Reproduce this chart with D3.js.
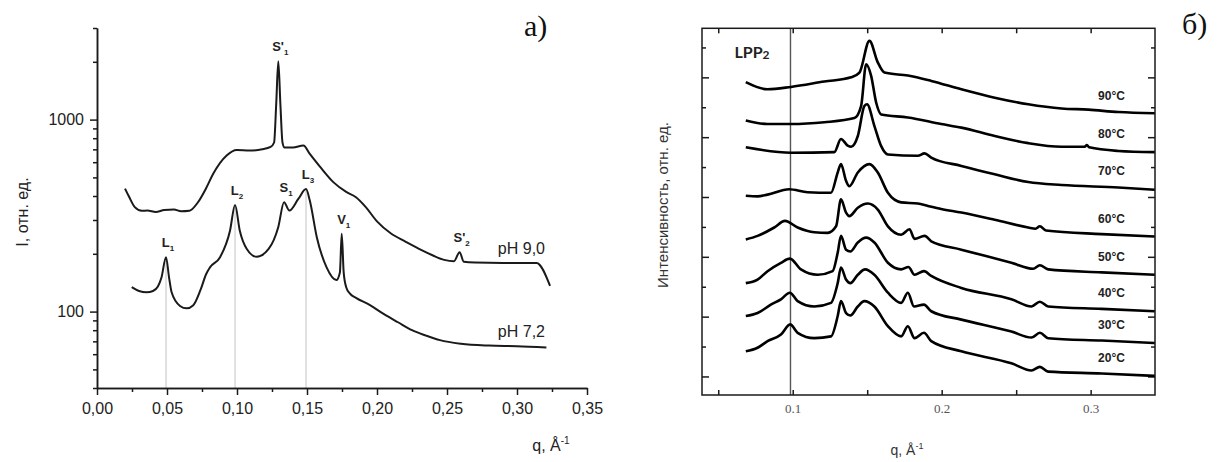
<!DOCTYPE html>
<html>
<head>
<meta charset="utf-8">
<script src="https://cdn.jsdelivr.net/npm/d3@7"></script>
<style>
  body { margin: 0; background: #fff; }
  svg { display: block; }
</style>
</head>
<body>
<svg width="1218" height="462"></svg>
<script>
// ---------- panel а): SAXS curves, log intensity ----------
const qPh9 = [0.020, 0.023, 0.027, 0.032, 0.036, 0.042, 0.048, 0.055, 0.060, 0.066, 0.072, 0.078, 0.083,
  0.0926, 0.0998, 0.109, 0.118, 0.124, 0.1265, 0.128, 0.1295, 0.131, 0.1325, 0.134, 0.140, 0.1474, 0.152,
  0.160, 0.169, 0.178, 0.185, 0.192, 0.200, 0.210, 0.220, 0.230, 0.240, 0.248, 0.255, 0.259, 0.262,
  0.270, 0.290, 0.314, 0.3236];
const iPh9 = [437, 395, 350, 335, 336, 330, 338, 340, 333, 335, 370, 440, 522,
  650, 695, 690, 700, 720, 760, 1200, 2014, 1200, 760, 715, 715, 733, 663,
  560, 471, 420, 394, 350, 295, 255, 232, 212, 196, 186, 183, 204, 182,
  180, 179, 179, 136];

const qPh7 = [0.0248, 0.030, 0.0355, 0.040, 0.0435, 0.046, 0.0493, 0.0515, 0.0533, 0.0593, 0.064, 0.0688,
  0.074, 0.078, 0.0807, 0.0879, 0.095, 0.0986, 0.102, 0.107, 0.114, 0.1226, 0.1295, 0.1336, 0.1374,
  0.1438, 0.1493, 0.152, 0.157, 0.164, 0.171, 0.1735, 0.1748, 0.1762, 0.178, 0.1807, 0.185, 0.195,
  0.205, 0.215, 0.225, 0.235, 0.245, 0.260, 0.280, 0.300, 0.321];
const iPh7 = [134, 128, 126, 128, 135, 150, 192, 150, 126, 107, 104, 108,
  130, 157, 170, 192, 264, 359, 264, 212, 193, 212, 276, 371, 336,
  386, 435, 379, 244, 170, 146, 160, 254, 160, 134, 124, 118, 108,
  97, 88, 80, 75, 71, 68, 66.5, 66, 65];

const phNames = ['pH 9,0', 'pH 7,2'];

// peak annotations
const peakBase = ['L', 'L', 'S', 'L', 'V', "S'", "S'"];
const peakSub = ['1', '2', '1', '3', '1', '1', '2'];
const peakQ = [0.0493, 0.0986, 0.1336, 0.1493, 0.1748, 0.1295, 0.259];
const peakI = [192, 359, 371, 435, 254, 2014, 204];

const xTicksA = [0, 0.05, 0.10, 0.15, 0.20, 0.25, 0.30, 0.35];
const xMinorA = [0.025, 0.075, 0.125, 0.175, 0.225, 0.275, 0.325];
const yTicksA = [100, 1000];
const yMinorA = [40, 50, 60, 70, 80, 90, 200, 300, 400, 500, 600, 700, 800, 900, 2000, 3000];

// ---------- panel б): curves vs temperature (shifted) ----------
const tempNames = ['20°C', '30°C', '40°C', '50°C', '60°C', '70°C', '80°C', '90°C'];
const t20 = [[0.0685,0.42],[0.0764,0.48],[0.0831,0.59],[0.0921,0.70],[0.0983,0.87],[0.1033,0.73],[0.1145,0.64],
  [0.1257,0.67],[0.1302,1.01],[0.1324,1.26],[0.1358,1.06],[0.1387,1.02],[0.1437,1.17],[0.1481,1.26],[0.1548,1.17],
  [0.1639,0.84],[0.1728,0.67],[0.1773,0.84],[0.1818,0.64],[0.1881,0.73],[0.1930,0.59],[0.2132,0.42],[0.2468,0.22],
  [0.2603,0.10],[0.2659,0.16],[0.2715,0.08],[0.3074,0.05],[0.343,0.01]];
const t30 = [[0.0685,1.01],[0.0764,1.06],[0.0853,1.20],[0.0921,1.29],[0.0981,1.40],[0.1033,1.26],[0.1145,1.17],
  [0.1257,1.23],[0.1302,1.56],[0.1324,1.82],[0.1358,1.62],[0.1387,1.56],[0.1437,1.70],[0.1486,1.79],[0.1548,1.70],
  [0.1639,1.40],[0.1728,1.23],[0.1773,1.40],[0.1814,1.17],[0.1881,1.20],[0.1930,1.09],[0.2132,0.95],[0.2468,0.75],
  [0.2603,0.65],[0.2659,0.73],[0.2715,0.64],[0.3074,0.60],[0.343,0.56]];
const t40 = [[0.0685,1.56],[0.0764,1.62],[0.0831,1.76],[0.0921,1.90],[0.0981,1.97],[0.1055,1.79],[0.1168,1.70],
  [0.1268,1.76],[0.1302,2.07],[0.1324,2.35],[0.1358,2.12],[0.1387,2.09],[0.1437,2.24],[0.1493,2.32],[0.1548,2.24],
  [0.1639,1.90],[0.1728,1.79],[0.1777,1.83],[0.1818,1.70],[0.1881,1.76],[0.1930,1.68],[0.2132,1.48],[0.2468,1.29],
  [0.2603,1.17],[0.2659,1.25],[0.2715,1.17],[0.3074,1.13],[0.343,1.09]];
const t50 = [[0.0685,2.29],[0.0764,2.35],[0.0876,2.49],[0.0948,2.60],[0.1033,2.49],[0.1145,2.41],[0.1235,2.40],
  [0.1291,2.51],[0.1324,2.96],[0.1358,2.74],[0.1380,2.68],[0.1437,2.82],[0.1504,2.89],[0.1571,2.79],[0.1639,2.51],
  [0.1728,2.37],[0.1784,2.46],[0.1818,2.30],[0.1885,2.35],[0.1930,2.26],[0.2132,2.12],[0.2468,1.90],[0.2614,1.80],
  [0.2659,1.86],[0.2715,1.79],[0.3074,1.74],[0.343,1.70]];
const t60 = [[0.0685,3.02],[0.0764,3.01],[0.0831,3.04],[0.0976,3.13],[0.1100,3.08],[0.1257,3.07],[0.1302,3.41],
  [0.1324,3.55],[0.1358,3.27],[0.1380,3.18],[0.1437,3.41],[0.1515,3.55],[0.1571,3.41],[0.1639,3.07],[0.1728,2.91],
  [0.1840,2.89],[0.1908,2.85],[0.1997,2.80],[0.2132,2.74],[0.2356,2.62],[0.2581,2.49],[0.2630,2.47],[0.2659,2.51],
  [0.2700,2.44],[0.3074,2.38],[0.343,2.34]];
const t70 = [[0.0685,3.83],[0.0988,3.74],[0.1279,3.75],[0.1324,3.97],[0.1369,3.86],[0.1392,3.84],[0.1437,4.02],
  [0.1481,4.52],[0.1499,4.55],[0.1548,4.19],[0.1594,3.85],[0.1639,3.71],[0.1840,3.69],[0.1885,3.73],[0.1930,3.66],
  [0.2132,3.52],[0.2356,3.38],[0.2581,3.25],[0.2805,3.20],[0.3186,3.16],[0.343,3.12]];
const t80 = [[0.0685,4.28],[0.0831,4.22],[0.0988,4.22],[0.1212,4.25],[0.1414,4.32],[0.1459,4.52],[0.1493,5.22],
  [0.1526,5.03],[0.1560,4.58],[0.1594,4.38],[0.1773,4.33],[0.1997,4.22],[0.2132,4.16],[0.2356,4.02],[0.2581,3.90],
  [0.2805,3.84],[0.2960,3.84],[0.2975,3.87],[0.2990,3.83],[0.3186,3.77],[0.343,3.75]];
const t90 = [[0.0685,4.92],[0.0831,4.80],[0.0988,4.84],[0.1212,4.93],[0.1392,5.00],[0.1448,5.08],[0.1515,5.61],
  [0.1571,5.25],[0.1616,5.08],[0.1773,5.03],[0.1930,4.94],[0.2132,4.80],[0.2356,4.66],[0.2581,4.55],[0.2805,4.48],
  [0.2985,4.46],[0.3186,4.42],[0.343,4.40]];

const lppQ = 0.0985;
const xTicksB = [0.05, 0.1, 0.15, 0.2, 0.25, 0.3];
const yTicksB = [0, 1, 2, 3, 4, 5];
const yMinorB = [0.5, 1.5, 2.5, 3.5, 4.5, 5.5];

const svg = d3.select('svg');
const sans = "'Liberation Sans', Arial, sans-serif";
const serif = "'Liberation Serif', 'Times New Roman', serif";
const ink = '#1a1a1a';

function paintAxis(g, size, family, color) {
  g.attr('font-family', family).attr('font-size', size);
  g.select('.domain').attr('stroke', ink).attr('stroke-width', 1.5);
  g.selectAll('.tick line').attr('stroke', ink).attr('stroke-width', 1.5);
  g.selectAll('.tick text').attr('fill', color || ink);
}

// ================= panel а) =================
const xL = d3.scaleLinear().domain([0, 0.35]).range([97, 587]);
const yL = d3.scaleLog().domain([40, 3000]).range([388, 28]);

const pa = svg.append('g');

// thin guide lines under the L peaks
pa.append('g').selectAll('line')
  .data(peakQ.map((q, i) => ({q, I: peakI[i], b: peakBase[i]})).filter(d => d.b === 'L'))
  .join('line')
  .attr('x1', d => xL(d.q)).attr('x2', d => xL(d.q))
  .attr('y1', d => yL(d.I)).attr('y2', yL(40))
  .attr('stroke', '#c4c4c4').attr('stroke-width', 1);

pa.append('g').attr('transform', 'translate(0,388)')
  .call(d3.axisBottom(xL).tickValues(xMinorA).tickFormat('').tickSize(4).tickSizeOuter(0))
  .call(g => paintAxis(g, 16, sans));
pa.append('g').attr('transform', 'translate(0,388)')
  .call(d3.axisBottom(xL).tickValues(xTicksA).tickFormat(d => d3.format('.2f')(d).replace('.', ','))
    .tickSize(7).tickSizeOuter(0).tickPadding(8))
  .call(g => paintAxis(g, 16, sans, '#222'));

pa.append('g').attr('transform', 'translate(97,0)')
  .call(d3.axisLeft(yL).tickValues(yMinorA).tickFormat('').tickSize(4).tickSizeOuter(0))
  .call(g => paintAxis(g, 16, sans));
pa.append('g').attr('transform', 'translate(97,0)')
  .call(d3.axisLeft(yL).tickValues(yTicksA).tickFormat(d3.format('d')).tickSize(7).tickSizeOuter(0).tickPadding(6))
  .call(g => paintAxis(g, 16, sans, '#222'));

const lineA = d3.line().x(d => xL(d[0])).y(d => yL(d[1])).curve(d3.curveMonotoneX);
const seriesA = [d3.zip(qPh9, iPh9), d3.zip(qPh7, iPh7)];
pa.append('g').selectAll('path').data(seriesA).join('path')
  .attr('d', lineA).attr('fill', 'none').attr('stroke', ink)
  .attr('stroke-width', 2).attr('stroke-linejoin', 'round');

// pH labels over the flat tails
pa.append('g').attr('font-family', sans).attr('font-size', 16).attr('fill', '#222')
  .selectAll('text').data(seriesA).join('text')
  .attr('text-anchor', 'end')
  .attr('x', xL(0.32))
  .attr('y', d => yL(d.find(p => p[0] >= 0.29)[1]) - 9)
  .text((d, i) => phNames[i]);

const pk = pa.append('g').attr('font-family', sans).attr('font-weight', 'bold').attr('font-size', 13).attr('fill', '#222')
  .selectAll('text').data(peakQ).join('text')
  .attr('text-anchor', 'middle')
  .attr('x', d => xL(d) + 2)
  .attr('y', (d, i) => yL(peakI[i]) - 10);
pk.append('tspan').text((d, i) => peakBase[i]);
pk.append('tspan').attr('font-size', 8).attr('dy', 4).text((d, i) => peakSub[i]);

pa.append('text').attr('transform', 'translate(28,212) rotate(-90)')
  .attr('text-anchor', 'middle').attr('font-family', sans).attr('font-size', 16).attr('fill', '#222')
  .text('I, отн. ед.');

const qa = pa.append('text').attr('x', 551).attr('y', 451).attr('text-anchor', 'middle')
  .attr('font-family', sans).attr('font-size', 16).attr('fill', '#222');
qa.append('tspan').text('q, Å');
qa.append('tspan').attr('font-size', 10).attr('dy', -7).text('-1');

svg.append('text').attr('x', 524).attr('y', 36).attr('font-family', serif).attr('font-size', 30)
  .attr('fill', '#111').text('а)');

// ================= panel б) =================
const xR = d3.scaleLinear().domain([0.0391, 0.3432]).range([702, 1155]);
const yR = d3.scaleLinear().domain([-0.31, 5.82]).range([395, 28.3]);
const pb = svg.append('g');

pb.append('line')
  .attr('x1', xR(lppQ)).attr('x2', xR(lppQ)).attr('y1', yR.range()[1]).attr('y2', yR.range()[0])
  .attr('stroke', '#555').attr('stroke-width', 1.4);

const frame = (g) => g.select('.domain').remove();
pb.append('g').attr('transform', 'translate(0,395)')
  .call(d3.axisBottom(xR).tickValues(xTicksB)
    .tickFormat(d => Math.abs(d * 10 - Math.round(d * 10)) < 1e-6 ? d3.format('.1f')(d) : '')
    .tickSize(-5).tickPadding(9))
  .call(g => paintAxis(g, 13, serif, '#555')).call(frame);
pb.append('g').attr('transform', 'translate(0,28.3)')
  .call(d3.axisTop(xR).tickValues(xTicksB).tickFormat('').tickSize(-5))
  .call(g => paintAxis(g, 13, serif)).call(frame);
[[702, d3.axisLeft], [1155, d3.axisRight]].forEach(([x, ax]) => {
  pb.append('g').attr('transform', `translate(${x},0)`)
    .call(ax(yR).tickValues(yTicksB).tickFormat('').tickSize(-7))
    .call(g => paintAxis(g, 13, sans)).call(frame);
  pb.append('g').attr('transform', `translate(${x},0)`)
    .call(ax(yR).tickValues(yMinorB).tickFormat('').tickSize(-4))
    .call(g => paintAxis(g, 13, sans)).call(frame);
});
pb.append('rect').attr('x', 702).attr('y', 28.3).attr('width', 453).attr('height', 395 - 28.3)
  .attr('fill', 'none').attr('stroke', ink).attr('stroke-width', 1.5);

const seriesB = [t20, t30, t40, t50, t60, t70, t80, t90];
const lineB = d3.line().x(d => xR(d[0])).y(d => yR(d[1])).curve(d3.curveMonotoneX);
pb.append('g').selectAll('path').data(seriesB).join('path')
  .attr('d', lineB).attr('fill', 'none').attr('stroke', '#000')
  .attr('stroke-width', 2.6).attr('stroke-linejoin', 'round');

function valueAt(s, q) {
  const i = d3.bisector(d => d[0]).left(s, q);
  const a = s[Math.max(i - 1, 0)], b = s[Math.min(i, s.length - 1)];
  return b[0] === a[0] ? a[1] : a[1] + (b[1] - a[1]) * (q - a[0]) / (b[0] - a[0]);
}
pb.append('g').attr('font-family', sans).attr('font-weight', 'bold').attr('font-size', 12).attr('fill', '#222')
  .selectAll('text').data(seriesB).join('text')
  .attr('text-anchor', 'middle')
  .attr('x', xR(0.314))
  .attr('y', d => yR(valueAt(d, 0.314)) - 12)
  .text((d, i) => tempNames[i]);

const lpp = pb.append('text').attr('x', xR(lppQ) - 56).attr('y', 58)
  .attr('font-family', "Lato, 'Open Sans', sans-serif").attr('font-weight', 'bold').attr('font-size', 16).attr('fill', '#222');
lpp.append('tspan').text('LPP');
lpp.append('tspan').attr('font-size', 12).attr('dy', 1).text('2');

pb.append('text').attr('transform', 'translate(668,205) rotate(-90)')
  .attr('text-anchor', 'middle').attr('font-family', sans).attr('font-size', 15).attr('fill', '#333')
  .text('Интенсивность, отн. ед.');

const qb = pb.append('text').attr('x', 907).attr('y', 455).attr('text-anchor', 'middle')
  .attr('font-family', sans).attr('font-size', 14).attr('fill', '#333');
qb.append('tspan').text('q, Å');
qb.append('tspan').attr('font-size', 9).attr('dy', -6).text('-1');

svg.append('text').attr('x', 1182).attr('y', 34).attr('font-family', serif).attr('font-size', 30)
  .attr('fill', '#111').text('б)');
</script>
</body>
</html>
